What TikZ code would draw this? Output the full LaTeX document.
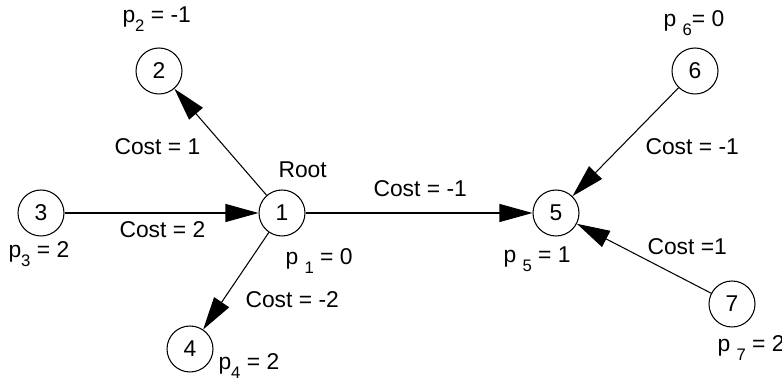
\documentclass[tikz,border=0pt]{standalone}
\usepackage{fontspec}
\setmainfont{Liberation Sans}
\usetikzlibrary{arrows.meta}

\newcommand{\idx}[1]{\lower0.38em\hbox{\fontsize{9.5}{10}\selectfont #1}}

\begin{document}
\begin{tikzpicture}[x=0.02cm, y=-0.02cm, line width=0.6pt,
    >={Triangle[length=0.66cm, width=0.36cm]},
    every node/.style={font=\fontsize{13}{15}\selectfont},
    vertex/.style={draw, circle, minimum size=0.92cm, inner sep=0pt},
    lbl/.style={anchor=base west, inner sep=0pt}]
  \useasboundingbox (0,0) rectangle (782,381);

  % vertices
  \node[vertex] (n1) at (282,213) {1};
  \node[vertex] (n2) at (159,71)  {2};
  \node[vertex] (n3) at (41,213)  {3};
  \node[vertex] (n4) at (190,349) {4};
  \node[vertex] (n5) at (556,213) {5};
  \node[vertex] (n6) at (695,71)  {6};
  \node[vertex] (n7) at (732,304) {7};

  % arcs
  \draw[->] (n1) -- (n2);
  \draw[->] (n3) -- (n1);
  \draw[->] (n1) -- (n4);
  \draw[->] (n1) -- (n5);
  \draw[->] (n6) -- (n5);
  \draw[->] (n7) -- (n5);

  % costs
  \node[lbl] (c12) at (114,155) {Cost = 1};
  \node[lbl] (c31) at (119,238) {Cost = 2};
  \node[lbl] (c14) at (245,308) {Cost = -2};
  \node[lbl] (c15) at (373,197) {Cost = -1};
  \node[lbl] (c65) at (645,155) {Cost = -1};
  \node[lbl] (c75) at (647,255) {Cost =1};

  % prices
  \node[lbl] (root) at (278,178) {Root};
  \node[lbl] (p1) at (285,265) {p \idx{1} = 0};
  \node[lbl] (p2) at (122,23)  {p\idx{2} = -1};
  \node[lbl] (p3) at (8,258)   {p\idx{3} = 2};
  \node[lbl] (p4) at (218,370) {p\idx{4} = 2};
  \node[lbl] (p5) at (503,263) {p \idx{5} = 1};
  \node[lbl] (p6) at (663,27)  {p \idx{6}= 0};
  \node[lbl] (p7) at (717,352) {p \idx{7} = 2};
\end{tikzpicture}
\end{document}
